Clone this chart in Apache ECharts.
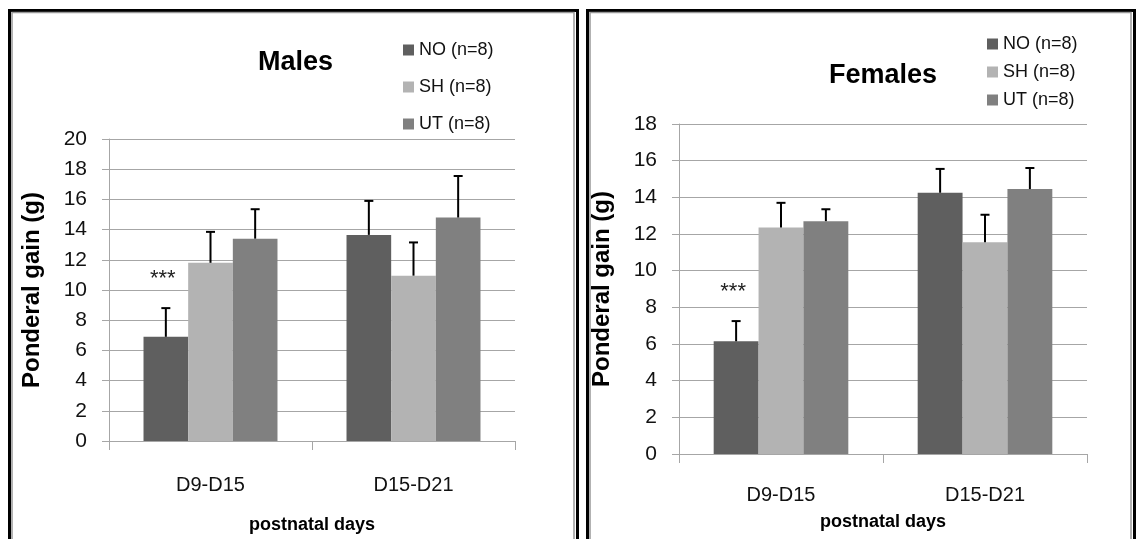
<!DOCTYPE html>
<html><head><meta charset="utf-8">
<script src="https://cdn.jsdelivr.net/npm/echarts@6/dist/echarts.min.js"></script>
<style>html,body{margin:0;padding:0;background:#fff}#c{width:1144px;height:539px}</style>
</head><body><div id="c"></div>
<script>
// ---- data ----
const categories = ['D9-D15', 'D15-D21'];
const groupNames = ['NO (n=8)', 'SH (n=8)', 'UT (n=8)'];
// Males: means and SD (upper error only)
const malesNO = [6.9, 13.65];
const malesSH = [11.8, 10.95];
const malesUT = [13.4, 14.8];
const malesNOsd = [1.9, 2.25];
const malesSHsd = [2.05, 2.2];
const malesUTsd = [1.95, 2.75];
const malesSig = ['***', ''];
// Females
const femalesNO = [6.15, 14.25];
const femalesSH = [12.35, 11.55];
const femalesUT = [12.7, 14.45];
const femalesNOsd = [1.1, 1.3];
const femalesSHsd = [1.35, 1.5];
const femalesUTsd = [0.65, 1.15];
const femalesSig = ['***', ''];
const malesYMax = 20, femalesYMax = 18, yStep = 2;

const colors = ['#5f5f5f', '#b3b3b3', '#808080'];
const FONT = 'Liberation Sans, Arial, sans-serif';
const BAR_FRAC = 0.22;
const gridColor = '#a6a6a6';

function errData(means, sds) {
  const out = [];
  means.forEach((m, si) => m.forEach((v, ci) => out.push([ci, si, v, sds[si][ci]])));
  return out;
}
function makeRender(sig) {
  return function (params, api) {
    const ci = api.value(0), si = api.value(1), mean = api.value(2), sd = api.value(3);
    const band = api.size([1, 0])[0];
    const bw = band * BAR_FRAC;
    const base = api.coord([ci, mean]);
    const top = api.coord([ci, mean + sd]);
    const x = base[0] + (si - 1) * bw;
    const st = { stroke: '#000', lineWidth: 2 };
    const children = [
      { type: 'line', shape: { x1: x, y1: base[1], x2: x, y2: top[1] }, style: st },
      { type: 'line', shape: { x1: x - 4.5, y1: top[1], x2: x + 4.5, y2: top[1] }, style: st }
    ];
    if (si === 0 && sig[ci]) {
      children.push({ type: 'text', x: x - 3, y: top[1] - 29,
        style: { text: sig[ci], fill: '#222', font: '22px ' + FONT, align: 'center', verticalAlign: 'middle' } });
    }
    return { type: 'group', children };
  };
}

function yAxisCfg(gi, max) {
  return {
    gridIndex: gi, type: 'value', min: 0, max: max, interval: yStep,
    name: 'Ponderal gain (g)', nameLocation: 'middle', nameRotate: 90, nameGap: 65,
    nameTextStyle: { fontFamily: FONT, fontSize: 24, fontWeight: 'bold', color: '#000' },
    axisLine: { show: true, lineStyle: { color: gridColor, width: 1 } },
    axisTick: { show: true, length: 7, lineStyle: { color: gridColor } },
    axisLabel: { margin: 22, fontFamily: FONT, fontSize: 21, color: '#111' },
    splitLine: { show: true, lineStyle: { color: gridColor, width: 1 } }
  };
}
function xAxisCfg(gi, labelMargin, nameGap) {
  return {
    gridIndex: gi, type: 'category', data: categories,
    name: 'postnatal days', nameLocation: 'middle', nameGap: nameGap,
    nameTextStyle: { fontFamily: FONT, fontSize: 18, fontWeight: 'bold', color: '#000' },
    axisLine: { show: true, lineStyle: { color: gridColor, width: 1 } },
    axisTick: { show: true, length: 9, alignWithLabel: false, lineStyle: { color: gridColor } },
    axisLabel: { margin: labelMargin, fontFamily: FONT, fontSize: 20, color: '#111' },
    splitLine: { show: false }
  };
}
function barSeries(gi, vals, idx) {
  return {
    type: 'bar', name: groupNames[idx], xAxisIndex: gi, yAxisIndex: gi,
    data: vals, barWidth: (BAR_FRAC * 100) + '%', barGap: '0%',
    itemStyle: { color: colors[idx] }
  };
}

const chart = echarts.init(document.getElementById('c'));
chart.setOption({
  animation: false,
  backgroundColor: '#fff',
  title: [
    { text: 'Males', left: 253, top: 44, textStyle: { fontFamily: FONT, fontSize: 27, fontWeight: 'bold', color: '#000' } },
    { text: 'Females', left: 824, top: 57, textStyle: { fontFamily: FONT, fontSize: 27, fontWeight: 'bold', color: '#000' } }
  ],
  legend: [
    { data: groupNames, orient: 'vertical', left: 398, top: 36, itemGap: 19, itemWidth: 11, itemHeight: 11, icon: 'rect',
      textStyle: { fontFamily: FONT, fontSize: 18, color: '#111' }, selectedMode: false },
    { data: groupNames, orient: 'vertical', left: 982, top: 30, itemGap: 10, itemWidth: 11, itemHeight: 11, icon: 'rect',
      textStyle: { fontFamily: FONT, fontSize: 18, color: '#111' }, selectedMode: false }
  ],
  grid: [
    { left: 109, top: 139, width: 406, height: 305 },
    { left: 679, top: 124, width: 408, height: 330 }
  ],
  xAxis: [xAxisCfg(0, 34, 75), xAxisCfg(1, 31, 59)],
  yAxis: [yAxisCfg(0, malesYMax), yAxisCfg(1, femalesYMax)],
  graphic: [
    { type: 'rect', shape: { x: 9.5, y: 10.5, width: 568, height: 560 }, style: { fill: 'none', stroke: '#000', lineWidth: 3 }, silent: true },
    { type: 'rect', shape: { x: 12, y: 12.5, width: 562, height: 560 }, style: { fill: 'none', stroke: '#999', lineWidth: 1.5 }, silent: true },
    { type: 'rect', shape: { x: 587.5, y: 10.5, width: 547, height: 560 }, style: { fill: 'none', stroke: '#000', lineWidth: 3 }, silent: true },
    { type: 'rect', shape: { x: 590, y: 12.5, width: 541, height: 560 }, style: { fill: 'none', stroke: '#999', lineWidth: 1.5 }, silent: true }
  ],
  series: [
    barSeries(0, malesNO, 0), barSeries(0, malesSH, 1), barSeries(0, malesUT, 2),
    barSeries(1, femalesNO, 0), barSeries(1, femalesSH, 1), barSeries(1, femalesUT, 2),
    { type: 'custom', xAxisIndex: 0, yAxisIndex: 0, renderItem: makeRender(malesSig), clip: false, z: 5,
      encode: { x: 0, y: 2 }, data: errData([malesNO, malesSH, malesUT], [malesNOsd, malesSHsd, malesUTsd]) },
    { type: 'custom', xAxisIndex: 1, yAxisIndex: 1, renderItem: makeRender(femalesSig), clip: false, z: 5,
      encode: { x: 0, y: 2 }, data: errData([femalesNO, femalesSH, femalesUT], [femalesNOsd, femalesSHsd, femalesUTsd]) }
  ]
});
</script></body></html>
